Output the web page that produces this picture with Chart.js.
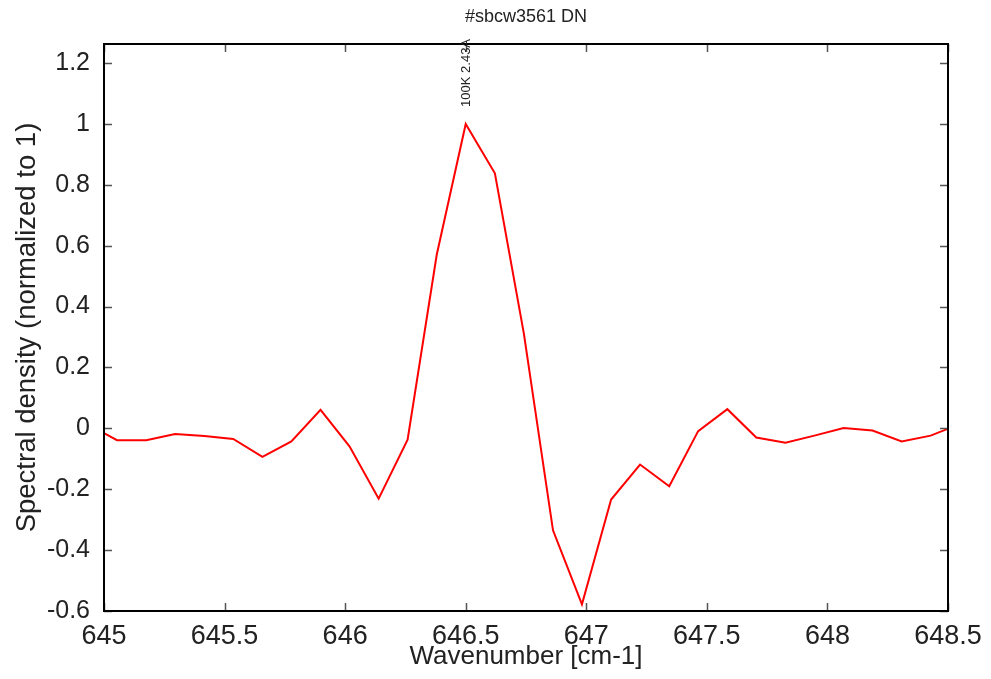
<!DOCTYPE html>
<html>
<head>
<meta charset="utf-8">
<script src="https://cdn.jsdelivr.net/npm/chart.js@4"></script>
<style>
  html, body { margin: 0; padding: 0; background: #fff; }
  #wrap { width: 991px; height: 679px; }
</style>
</head>
<body>
<div id="wrap"><canvas id="grafico" width="991" height="679"></canvas></div>
<script>
const titulo = '#sbcw3561 DN';
const etiquetaPico = '100K 2.43A';
const picoX = 646.5;
const picoY = 1.0;

const wavenumber = [644.934, 645.054, 645.175, 645.295, 645.416, 645.536, 645.657, 645.777,
  645.898, 646.018, 646.139, 646.259, 646.380, 646.500, 646.621, 646.741, 646.862, 646.982,
  647.103, 647.223, 647.344, 647.464, 647.585, 647.705, 647.826, 647.946, 648.067, 648.187,
  648.308, 648.428, 648.549];
const densidad = [0.012, -0.039, -0.039, -0.019, -0.025, -0.035, -0.094, -0.043,
  0.061, -0.059, -0.231, -0.037, 0.571, 1.0, 0.838, 0.312, -0.335, -0.578,
  -0.234, -0.119, -0.19, -0.009, 0.063, -0.030, -0.047, -0.024, 0.001, -0.007,
  -0.043, -0.024, 0.014];

const ticksX = [645, 645.5, 646, 646.5, 647, 647.5, 648, 648.5];
const ticksY = [-0.6, -0.4, -0.2, 0, 0.2, 0.4, 0.6, 0.8, 1, 1.2];

const puntos = wavenumber.map((x, i) => ({ x: x, y: densidad[i] }));
const colorTexto = '#222';
const fuente = 'Liberation Sans, Arial, Helvetica, sans-serif';

const formato = v => String(+Number(v).toFixed(2));

// caja, ticks hacia dentro, titulo y etiqueta del pico
const marco = {
  id: 'marco',
  afterDraw(chart) {
    const ctx = chart.ctx;
    const a = chart.chartArea;
    const sx = chart.scales.x;
    const sy = chart.scales.y;
    ctx.save();
    ctx.strokeStyle = '#555';
    ctx.lineWidth = 1.5;
    ctx.beginPath();
    ticksX.forEach(t => {
      const px = Math.round(sx.getPixelForValue(t)) + 0.5;
      ctx.moveTo(px, a.bottom); ctx.lineTo(px, a.bottom - 8);
      ctx.moveTo(px, a.top); ctx.lineTo(px, a.top + 8);
    });
    ticksY.forEach(t => {
      const py = Math.round(sy.getPixelForValue(t)) + 0.5;
      ctx.moveTo(a.left, py); ctx.lineTo(a.left + 8, py);
      ctx.moveTo(a.right, py); ctx.lineTo(a.right - 8, py);
    });
    ctx.stroke();

    ctx.strokeStyle = '#000';
    ctx.lineWidth = 2;
    ctx.strokeRect(a.left, a.top, a.right - a.left, a.bottom - a.top);

    ctx.fillStyle = colorTexto;
    ctx.font = '18px ' + fuente;
    ctx.textAlign = 'center';
    ctx.textBaseline = 'middle';
    ctx.fillText(titulo, (a.left + a.right) / 2, 17);

    const px = sx.getPixelForValue(picoX);
    const py = sy.getPixelForValue(picoY);
    ctx.translate(px + 1, py - 17);
    ctx.rotate(-Math.PI / 2);
    ctx.font = '13px ' + fuente;
    ctx.textAlign = 'left';
    ctx.fillText(etiquetaPico, 0, 0);
    ctx.restore();
  }
};

const grafico = document.getElementById('grafico');
const chart = new Chart(grafico, {
  type: 'scatter',
  data: {
    datasets: [{
      data: puntos,
      showLine: true,
      borderColor: '#ff0000',
      borderWidth: 2,
      pointRadius: 0,
      tension: 0
    }]
  },
  options: {
    responsive: false,
    animation: false,
    layout: { padding: { top: 44, right: 43, left: 0, bottom: 0 } },
    plugins: { legend: { display: false }, tooltip: { enabled: false } },
    scales: {
      x: {
        type: 'linear',
        min: 645,
        max: 648.5,
        afterBuildTicks: s => { s.ticks = ticksX.map(v => ({ value: v })); },
        afterFit: s => { s.height = 68; },
        grid: { display: false },
        border: { display: false },
        ticks: {
          color: colorTexto,
          font: { family: fuente, size: 27 },
          padding: 1,
          maxRotation: 0,
          autoSkip: false,
          callback: formato
        },
        title: {
          display: true,
          text: 'Wavenumber [cm-1]',
          color: colorTexto,
          font: { family: fuente, size: 26 },
          padding: { top: 0, bottom: 7 }
        }
      },
      y: {
        type: 'linear',
        min: -0.6,
        max: 1.2625,
        afterBuildTicks: s => { s.ticks = ticksY.map(v => ({ value: v })); },
        afterFit: s => { s.width = 104; },
        grid: { display: false },
        border: { display: false },
        ticks: {
          color: colorTexto,
          font: { family: fuente, size: 25 },
          padding: 6,
          autoSkip: false,
          callback: formato
        },
        title: {
          display: true,
          text: 'Spectral density (normalized to 1)',
          color: colorTexto,
          font: { family: fuente, size: 27.5 },
          padding: { top: 11, bottom: 0 }
        }
      }
    }
  },
  plugins: [marco]
});
</script>
</body>
</html>
